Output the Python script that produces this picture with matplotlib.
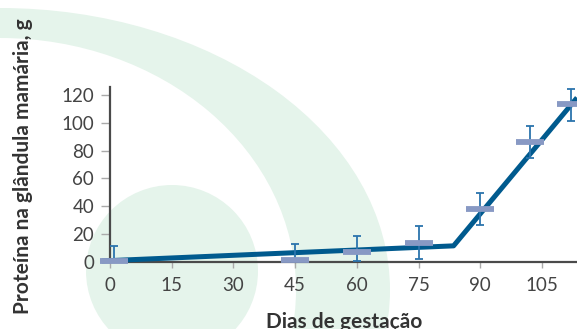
import matplotlib
matplotlib.use("Agg")
import matplotlib.pyplot as plt
from matplotlib.patches import Ellipse, Circle

# ---- data ----
days = [1, 45, 60, 75, 90, 102, 112]
protein = [0.5, 1.5, 7.5, 14, 38, 86.5, 113.3]
err_upper = [11, 11.2, 11.4, 11.5, 11.4, 11.5, 11.2]
err_lower = [0, 0, 6.5, 11.5, 11.4, 11.5, 11.8]
fit_days = [-2, 83.5, 113.5]
fit_vals = [0.75, 11.6, 118]
xticks = [0, 15, 30, 45, 60, 75, 90, 105]
yticks = [0, 20, 40, 60, 80, 100, 120]
xlabel = "Dias de gestação"
ylabel = "Proteína na glândula mamária, g"

W, H = 577, 329
fig = plt.figure(figsize=(W / 100, H / 100), dpi=100)
fig.patch.set_facecolor("white")

# ---- background decoration (figure pixel coords, y from top) ----
green = "#e5f4eb"
bg = fig.add_axes([0, 0, 1, 1], zorder=0)
bg.set_xlim(0, W)
bg.set_ylim(H, 0)
bg.axis("off")
bg.add_patch(Ellipse((0, 290), 2 * 390, 2 * 282, color=green, lw=0))
bg.add_patch(Ellipse((0, 290), 2 * 296, 2 * 252, color="white", lw=0))
bg.add_patch(Circle((172, 271), 86, color=green, lw=0))

# ---- main axes ----
x0, x1 = 110, 577
ytop, ybot = 87, 262
ax = fig.add_axes([x0 / W, (H - ybot) / H, (x1 - x0) / W, (ybot - ytop) / H], zorder=1)
ax.patch.set_alpha(0)
ax.set_xlim(0, 113.5)
ax.set_ylim(0, 125.7)

ax.plot(fit_days, fit_vals, color="#005a8e", lw=3.6, solid_capstyle="butt",
        clip_on=False, zorder=3)
ax.errorbar(days, protein, yerr=[err_lower, err_upper], fmt="none",
            ecolor="#2b74ad", elinewidth=1.3, capsize=3.2, capthick=1.3, zorder=4)
ax.plot(days, protein, linestyle="none", marker="_", markersize=20,
        markeredgewidth=4.2, color="#8899c4", clip_on=False, zorder=5)

for s in ["top", "right"]:
    ax.spines[s].set_visible(False)
for s in ["left", "bottom"]:
    ax.spines[s].set_color("#4a4a4a")
    ax.spines[s].set_linewidth(1.6)

ax.set_xticks(xticks)
ax.set_yticks(yticks)
ax.tick_params(axis="y", length=6.5, width=1.0, color="#aaaaaa", pad=5,
               labelsize=13.5, labelcolor="#444444")
ax.tick_params(axis="x", length=4, width=1.0, color="#aaaaaa", pad=7,
               labelsize=13.5, labelcolor="#444444")
for lab in ax.get_xticklabels() + ax.get_yticklabels():
    lab.set_fontfamily("Lato")

fig.text(344 / W, 1.5 / H, xlabel, ha="center", va="baseline",
         fontsize=15, fontweight="bold", color="#333333", family="Lato")
fig.text(23 / W, 1 - 166 / H, ylabel, ha="center", va="center", rotation=90,
         fontsize=15, fontweight="bold", color="#333333", family="Lato")

fig.savefig("out.png", dpi=100)
